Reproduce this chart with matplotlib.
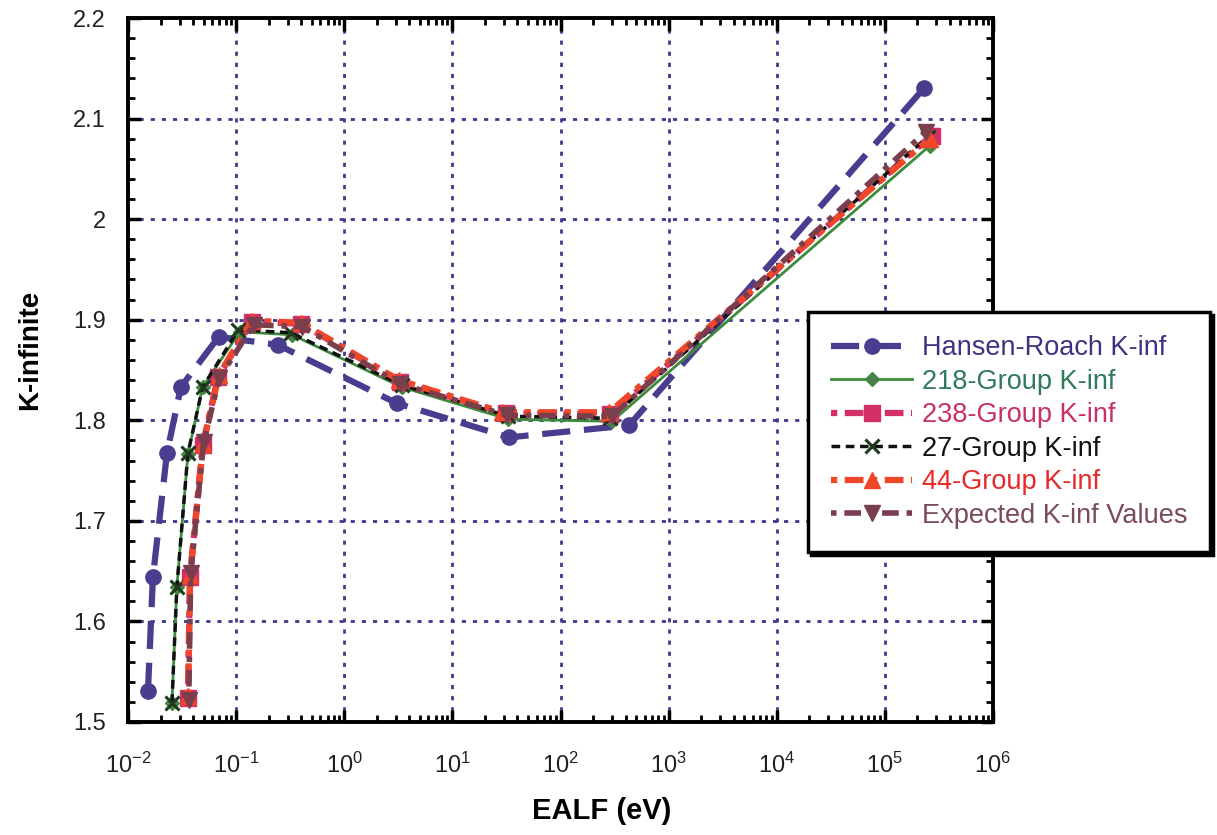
import matplotlib
matplotlib.use("Agg")
import matplotlib.pyplot as plt
from matplotlib.ticker import LogLocator, MultipleLocator, FixedLocator

plt.rcParams['font.family'] = ['Liberation Sans', 'DejaVu Sans']
plt.rcParams['mathtext.default'] = 'regular'

# ---- data ----
x_hr = [0.0153, 0.0170, 0.0229, 0.0308, 0.069, 0.243, 3.05, 33.6, 431, 2.29e5]
y_hr = [1.531, 1.644, 1.767, 1.833, 1.883, 1.875, 1.817, 1.783, 1.795, 2.130]

x_218 = [0.0255, 0.0283, 0.0358, 0.049, 0.108, 0.33, 3.4, 33, 300, 2.6e5]
y_218 = [1.519, 1.634, 1.766, 1.833, 1.888, 1.885, 1.833, 1.801, 1.799, 2.073]

x_238 = [0.0358, 0.0374, 0.049, 0.068, 0.14, 0.40, 3.3, 31, 290, 2.7e5]
y_238 = [1.524, 1.644, 1.775, 1.843, 1.898, 1.896, 1.838, 1.807, 1.806, 2.083]

x_27 = [0.0255, 0.0283, 0.0358, 0.049, 0.105, 0.32, 3.4, 33, 290, 2.5e5]
y_27 = [1.519, 1.634, 1.767, 1.833, 1.890, 1.887, 1.835, 1.804, 1.802, 2.082]

x_44 = [0.0360, 0.0376, 0.0495, 0.069, 0.14, 0.40, 3.2, 29, 282, 2.6e5]
y_44 = [1.526, 1.646, 1.776, 1.845, 1.899, 1.897, 1.840, 1.808, 1.808, 2.080]

x_exp = [0.0365, 0.038, 0.050, 0.070, 0.145, 0.41, 3.3, 32, 300, 2.4e5]
y_exp = [1.522, 1.648, 1.778, 1.842, 1.895, 1.893, 1.836, 1.805, 1.804, 2.087]

labels = ["Hansen-Roach K-inf", "218-Group K-inf", "238-Group K-inf",
          "27-Group K-inf", "44-Group K-inf", "Expected K-inf Values"]
label_colors = ["#3f3282", "#2f7a5a", "#c8306a", "#111111", "#e82828", "#7a4a5e"]

x_ticks = [1e-2, 1e-1, 1e0, 1e1, 1e2, 1e3, 1e4, 1e5, 1e6]
y_ticks = [1.5, 1.6, 1.7, 1.8, 1.9, 2.0, 2.1, 2.2]

# ---- figure ----
fig = plt.figure(figsize=(12.17, 8.35), dpi=100)
ax = fig.add_axes([128/1217, 1-722/835, (993-128)/1217, (722-18)/835])

ax.plot(x_hr, y_hr, color="#4a3d8f", lw=4.5, dashes=(4.5, 2.2), marker='o', ms=11,
        mfc="#4a3d8f", mec="#4a3d8f", label=labels[0], zorder=3)
ax.plot(x_218, y_218, color="#3d8c3d", lw=2.0, ls='-', marker='D', ms=7,
        mfc="#4c7f4c", mec="#3d8c3d", label=labels[1], zorder=4)
ax.plot(x_238, y_238, color="#d3306a", lw=4.5, dashes=(1, 1.2, 3, 1.2), marker='s', ms=11,
        mfc="#d3306a", mec="#d3306a", label=labels[2], zorder=5)
ax.plot(x_27, y_27, color="#111111", lw=2.5, dashes=(2.5, 1.6), marker='x', ms=10, mew=2.2,
        mec="#1f3a1f", label=labels[3], zorder=6)
ax.plot(x_44, y_44, color="#f0462a", lw=4.5, dashes=(1, 1.2, 3, 1.2), marker='^', ms=11,
        mfc="#f0462a", mec="#f0462a", label=labels[4], zorder=7)
ax.plot(x_exp, y_exp, color="#7a3e4c", lw=4.0, dashes=(1, 1.4, 3, 1.4), marker='v', ms=11,
        mfc="#7a3e4c", mec="#7a3e4c", label=labels[5], zorder=8)

ax.set_xscale('log')
ax.set_xlim(1e-2, 1e6)
ax.set_ylim(1.5, 2.2)
ax.xaxis.set_major_locator(FixedLocator(x_ticks))
ax.xaxis.set_minor_locator(LogLocator(base=10, subs=range(2, 10), numticks=50))
ax.yaxis.set_major_locator(FixedLocator(y_ticks))
ax.yaxis.set_minor_locator(MultipleLocator(0.02))
ax.set_yticklabels(["1.5", "1.6", "1.7", "1.8", "1.9", "2", "2.1", "2.2"])

ax.grid(True, which='major', color="#3c3a8c", lw=2.0, dashes=(1.5, 2.5))
ax.set_axisbelow(True)

for s in ax.spines.values():
    s.set_linewidth(2.8)
ax.tick_params(which='major', direction='in', length=9, width=2.5,
               top=True, right=True, labelsize=17, pad=14, colors='black')
ax.tick_params(which='minor', direction='in', length=5, width=2.0, top=True, right=True)
ax.tick_params(axis='y', which='major', labelcolor='#222222', pad=16)
ax.tick_params(axis='x', which='major', labelcolor='#222222', pad=22)

ax.set_xlabel("EALF (eV)", fontsize=21, fontweight='bold')
ax.set_ylabel("K-infinite", fontsize=20, fontweight='bold')
ax.xaxis.set_label_coords(0.548, -0.106)
ax.yaxis.set_label_coords(-0.098, 0.528)

leg = fig.legend(loc='upper left', bbox_to_anchor=(808/1217, 1-312/835),
                 fontsize=19.5, frameon=True, fancybox=False,
                 shadow={'color': 'black', 'alpha': 1.0},
                 handlelength=3.0, labelspacing=0.28, borderpad=0.85,
                 handletextpad=0.35, borderaxespad=0.0)
leg.get_frame().set_edgecolor('black')
leg.get_frame().set_linewidth(2.5)
for t, c in zip(leg.get_texts(), label_colors):
    t.set_color(c)

fig.savefig("out.png", dpi=100)
